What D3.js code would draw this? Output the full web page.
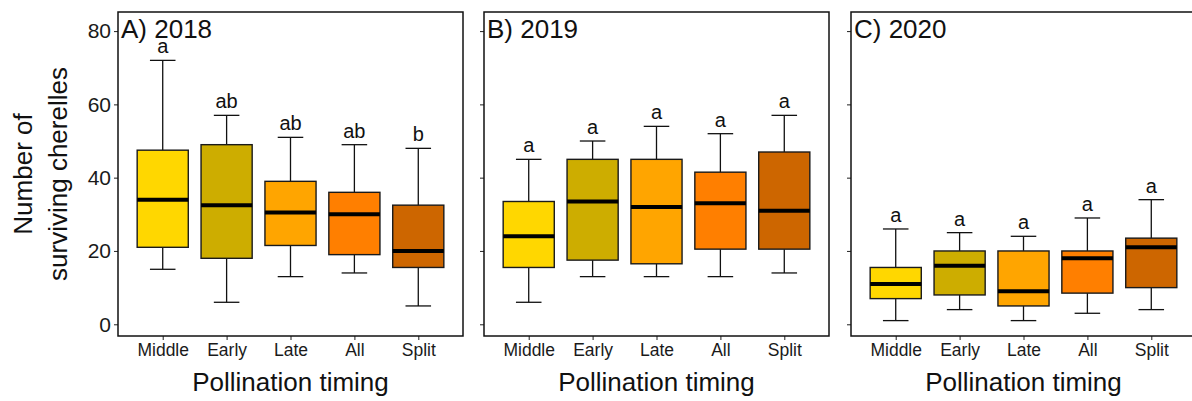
<!DOCTYPE html>
<html>
<head>
<meta charset="utf-8">
<script src="https://cdn.jsdelivr.net/npm/d3@7"></script>
<style>
  html, body { margin: 0; padding: 0; background: #fff; }
  svg { display: block; font-family: "Liberation Sans", Arial, sans-serif; }
</style>
</head>
<body>
<svg id="chart" width="1192" height="401"></svg>
<script>
// Pollination timing treatments
const categories = ["Middle", "Early", "Late", "All", "Split"];
const fills = ["#FFD700", "#CDAD00", "#FFA500", "#FF7F00", "#CD6600"];
const panelTitles = ["A) 2018", "B) 2019", "C) 2020"];
const yTicks = [0, 20, 40, 60, 80];

// Box summaries per year: lower whisker, Q1, median, Q3, upper whisker
const low2018 = [15, 6, 13, 14, 5];
const q1_2018 = [21, 18, 21.5, 19, 15.5];
const med2018 = [34, 32.5, 30.5, 30, 20];
const q3_2018 = [47.5, 49, 39, 36, 32.5];
const high2018 = [72, 57, 51, 49, 48];
const letters2018 = ["a", "ab", "ab", "ab", "b"];

const low2019 = [6, 13, 13, 13, 14];
const q1_2019 = [15.5, 17.5, 16.5, 20.5, 20.5];
const med2019 = [24, 33.5, 32, 33, 31];
const q3_2019 = [33.5, 45, 45, 41.5, 47];
const high2019 = [45, 50, 54, 52, 57];
const letters2019 = ["a", "a", "a", "a", "a"];

const low2020 = [1, 4, 1, 3, 4];
const q1_2020 = [7, 8, 5, 8.5, 10];
const med2020 = [11, 16, 9, 18, 21];
const q3_2020 = [15.5, 20, 20, 20, 23.5];
const high2020 = [26, 25, 24, 29, 34];
const letters2020 = ["a", "a", "a", "a", "a"];

const years = [
  { title: panelTitles[0], low: low2018, q1: q1_2018, med: med2018, q3: q3_2018, high: high2018, letters: letters2018 },
  { title: panelTitles[1], low: low2019, q1: q1_2019, med: med2019, q3: q3_2019, high: high2019, letters: letters2019 },
  { title: panelTitles[2], low: low2020, q1: q1_2020, med: med2020, q3: q3_2020, high: high2020, letters: letters2020 }
];

const svg = d3.select("#chart");
const panelLefts = [118, 484, 851];
const panelW = 345;
const plotTop = 12, plotBottom = 336;
const fontFamily = "Liberation Sans, Arial, sans-serif";

const y = d3.scaleLinear().domain([-3.2, 85.2]).range([plotBottom, plotTop]);

years.forEach((yr, pi) => {
  const left = panelLefts[pi];
  const x = d3.scalePoint().domain(categories).range([left, left + panelW]).padding(0.7);
  const step = x.step();
  const boxW = step * 0.8, capW = step * 0.4;
  const g = svg.append("g");

  // y axis
  const yAxis = g.append("g").attr("transform", `translate(${left},0)`)
    .call(d3.axisLeft(y).tickValues(yTicks).tickSize(4).tickPadding(3)
      .tickFormat(pi === 0 ? d3.format("d") : () => ""));
  yAxis.select(".domain").remove();
  yAxis.selectAll(".tick line").attr("stroke", "#333").attr("stroke-width", 1.1);
  yAxis.selectAll(".tick text").attr("font-size", 21).attr("fill", "#1a1a1a")
    .attr("font-family", fontFamily);

  // x axis
  const xAxis = g.append("g").attr("transform", `translate(0,${plotBottom})`)
    .call(d3.axisBottom(x).tickSize(4).tickPadding(4));
  xAxis.select(".domain").remove();
  xAxis.selectAll(".tick line").attr("stroke", "#333").attr("stroke-width", 1.1);
  xAxis.selectAll(".tick text").attr("font-size", 17.5).attr("fill", "#1a1a1a")
    .attr("font-family", fontFamily)
    .attr("dy", null).attr("y", 20);

  const boxes = g.selectAll("g.box").data(categories).join("g").attr("class", "box");

  // whiskers
  boxes.append("line")
    .attr("x1", (d) => x(d)).attr("x2", (d) => x(d))
    .attr("y1", (d, i) => y(yr.high[i])).attr("y2", (d, i) => y(yr.q3[i]))
    .attr("stroke", "#111").attr("stroke-width", 1.3);
  boxes.append("line")
    .attr("x1", (d) => x(d)).attr("x2", (d) => x(d))
    .attr("y1", (d, i) => y(yr.q1[i])).attr("y2", (d, i) => y(yr.low[i]))
    .attr("stroke", "#111").attr("stroke-width", 1.3);
  boxes.append("line")
    .attr("x1", (d) => x(d) - capW / 2).attr("x2", (d) => x(d) + capW / 2)
    .attr("y1", (d, i) => y(yr.high[i])).attr("y2", (d, i) => y(yr.high[i]))
    .attr("stroke", "#111").attr("stroke-width", 1.3);
  boxes.append("line")
    .attr("x1", (d) => x(d) - capW / 2).attr("x2", (d) => x(d) + capW / 2)
    .attr("y1", (d, i) => y(yr.low[i])).attr("y2", (d, i) => y(yr.low[i]))
    .attr("stroke", "#111").attr("stroke-width", 1.3);

  // boxes
  boxes.append("rect")
    .attr("x", (d) => x(d) - boxW / 2).attr("width", boxW)
    .attr("y", (d, i) => y(yr.q3[i])).attr("height", (d, i) => y(yr.q1[i]) - y(yr.q3[i]))
    .attr("fill", (d, i) => fills[i]).attr("stroke", "#1a1a1a").attr("stroke-width", 1.4);

  // medians
  boxes.append("line")
    .attr("x1", (d) => x(d) - boxW / 2).attr("x2", (d) => x(d) + boxW / 2)
    .attr("y1", (d, i) => y(yr.med[i])).attr("y2", (d, i) => y(yr.med[i]))
    .attr("stroke", "#000").attr("stroke-width", 4);

  // significance letters
  boxes.append("text")
    .attr("x", (d) => x(d)).attr("y", (d, i) => y(yr.high[i]) - 7)
    .attr("text-anchor", "middle").attr("font-size", 20).attr("fill", "#111")
    .text((d, i) => yr.letters[i]);

  // panel frame
  g.append("rect").attr("x", left).attr("y", plotTop).attr("width", panelW).attr("height", plotBottom - plotTop)
    .attr("fill", "none").attr("stroke", "#111").attr("stroke-width", 1.5);

  // panel title
  g.append("text").attr("x", left + 3).attr("y", 38).attr("font-size", 26).attr("fill", "#111")
    .text(yr.title);

  // x axis title
  g.append("text").attr("x", left + panelW / 2).attr("y", 391).attr("text-anchor", "middle")
    .attr("font-size", 26).attr("fill", "#111").text("Pollination timing");
});

// y axis title (two centred lines)
const yt = svg.append("text").attr("transform", `translate(0,${(plotTop + plotBottom) / 2}) rotate(-90)`)
  .attr("font-size", 26).attr("fill", "#111").attr("text-anchor", "middle");
yt.append("tspan").attr("x", 0).attr("y", 32).text("Number of");
yt.append("tspan").attr("x", 0).attr("y", 67).text("surviving cherelles");
</script>
</body>
</html>
